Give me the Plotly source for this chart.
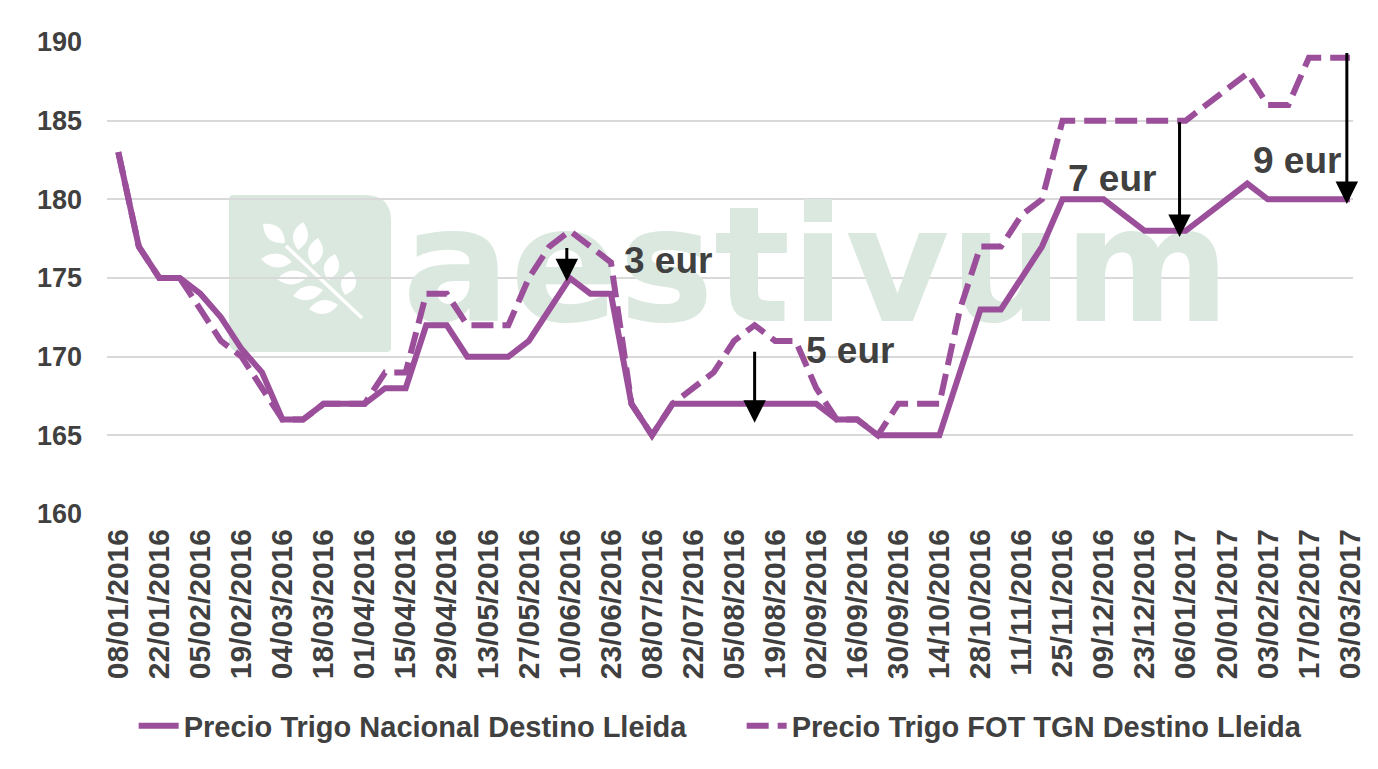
import plotly.graph_objects as go

# ---------------- data ----------------
dates = [
    "08/01/2016", "15/01/2016", "22/01/2016", "29/01/2016", "05/02/2016", "12/02/2016",
    "19/02/2016", "26/02/2016", "04/03/2016", "11/03/2016", "18/03/2016", "25/03/2016",
    "01/04/2016", "08/04/2016", "15/04/2016", "22/04/2016", "29/04/2016", "06/05/2016",
    "13/05/2016", "20/05/2016", "27/05/2016", "03/06/2016", "10/06/2016", "17/06/2016",
    "23/06/2016", "01/07/2016", "08/07/2016", "15/07/2016", "22/07/2016", "29/07/2016",
    "05/08/2016", "12/08/2016", "19/08/2016", "26/08/2016", "02/09/2016", "09/09/2016",
    "16/09/2016", "23/09/2016", "30/09/2016", "07/10/2016", "14/10/2016", "21/10/2016",
    "28/10/2016", "04/11/2016", "11/11/2016", "18/11/2016", "25/11/2016", "02/12/2016",
    "09/12/2016", "16/12/2016", "23/12/2016", "30/12/2016", "06/01/2017", "13/01/2017",
    "20/01/2017", "27/01/2017", "03/02/2017", "10/02/2017", "17/02/2017", "24/02/2017",
    "03/03/2017",
]

nacional = [
    183, 177, 175, 175, 174, 172.5, 170.5, 169, 166, 166, 167, 167,
    167, 168, 168, 172, 172, 170, 170, 170, 171, 173, 175, 174,
    174, 167, 165, 167, 167, 167, 167, 167, 167, 167, 167, 166,
    166, 165, 165, 165, 165, 169, 173, 173, 175, 177, 180, 180,
    180, 179, 178, 178, 178, 179, 180, 181, 180, 180, 180, 180,
    180,
]

fot_tgn = [
    183, 177, 175, 175, 173, 171, 170, 168, 166, 166, 167, 167,
    167, 169, 169, 174, 174, 172, 172, 172, 175, 177, 178, 177,
    176, 167, 165, 167, 168, 169, 171, 172, 171, 171, 168, 166,
    166, 165, 167, 167, 167, 173, 177, 177, 179, 180, 185, 185,
    185, 185, 185, 185, 185, 186, 187, 188, 186, 186, 189, 189,
    189,
]

tick_labels = dates[::2]

series_names = ["Precio Trigo Nacional Destino Lleida", "Precio Trigo FOT TGN Destino Lleida"]

# difference call-outs: (category index, from value, to value, label, label x, label y)
gaps = [
    (21.85, 177.0, 174.8, "3 eur", 26.8, 176.1),
    (31.0, 170.4, 165.8, "5 eur", 35.65, 170.4),
    (51.7, 185.0, 177.6, "7 eur", 48.4, 181.35),
    (59.85, 189.4, 179.7, "9 eur", 57.4, 182.5),
]

# ---------------- styling ----------------
PURPLE = "#9b4f9b"
GREY_TXT = "#404040"
WM = "rgb(218,232,223)"
FONT = "Liberation Sans, Arial, sans-serif"

W, H = 1378, 769
L, R, T, B = 107, 25, 42, 255
PW, PH = W - L - R, H - T - B


def px(x):
    return (x - L) / PW


def py(y):
    return (H - B - y) / PH


def path_from_px(points, close=True):
    s = ""
    for cmd, coords in points:
        s += cmd + " ".join(f"{px(a):.5f},{py(b):.5f}" for a, b in coords) + " "
    if close:
        s += "Z"
    return s


fig = go.Figure()

# watermark word (drawn beneath the lines)
fig.add_trace(go.Scatter(
    x=[dates[34]], y=[174.8], mode="text", text=["aestivum"],
    textposition="middle center",
    textfont=dict(family="DejaVu Sans, sans-serif", size=160, color=WM, weight="bold"),
    showlegend=False, hoverinfo="skip", cliponaxis=False,
))

fig.add_trace(go.Scatter(
    x=dates, y=nacional, mode="lines", name=series_names[0],
    line=dict(color=PURPLE, width=6),
))
fig.add_trace(go.Scatter(
    x=dates, y=fot_tgn, mode="lines", name=series_names[1],
    line=dict(color=PURPLE, width=6, dash="22px,9px"),
))

shapes = []
# logo rounded square
x0, x1, y0, y1 = 229, 391, 195, 352
rtr, rbl, rsm = 26, 12, 4
logo = [
    ("M", [(x0 + rsm, y0)]),
    ("L", [(x1 - rtr, y0)]),
    ("Q", [(x1, y0), (x1, y0 + rtr)]),
    ("L", [(x1, y1 - rsm)]),
    ("Q", [(x1, y1), (x1 - rsm, y1)]),
    ("L", [(x0 + rbl, y1)]),
    ("Q", [(x0, y1), (x0, y1 - rbl)]),
    ("L", [(x0, y0 + rsm)]),
    ("Q", [(x0, y0), (x0 + rsm, y0)]),
]
shapes.append(dict(type="path", xref="paper", yref="paper", path=path_from_px(logo),
                   fillcolor=WM, line=dict(width=0), layer="below"))

# wheat stem
shapes.append(dict(type="line", xref="paper", yref="paper",
                   x0=px(286), y0=py(246), x1=px(362), y1=py(318),
                   line=dict(color="white", width=3.5), layer="below"))

leaves = [
    ((285, 243), (263, 224), 15),
    ((292, 262), (261, 259), 14),
    ((308, 276), (277, 279), 14),
    ((323, 290), (293, 296), 14),
    ((338, 305), (309, 309), 14),
    ((298, 250), (303, 222), 15),
    ((313, 265), (318, 238), 15),
    ((328, 280), (335, 254), 15),
    ((345, 295), (352, 271), 15),
]
for (bx, by), (tx, ty), w in leaves:
    dx, dy = tx - bx, ty - by
    ln = (dx * dx + dy * dy) ** 0.5
    nx, ny = -dy / ln, dx / ln
    mx, my = bx + 0.5 * dx, by + 0.5 * dy
    c1 = (mx + nx * w, my + ny * w)
    c2 = (mx - nx * w, my - ny * w)
    leaf = [("M", [(bx, by)]), ("Q", [c1, (tx, ty)]), ("Q", [c2, (bx, by)])]
    shapes.append(dict(type="path", xref="paper", yref="paper", path=path_from_px(leaf),
                       fillcolor="white", line=dict(width=0), layer="below"))

annotations = []
for xi, y_from, y_to, label, lx, ly in gaps:
    annotations.append(dict(
        x=xi, y=y_to, ax=xi, ay=y_from, xref="x", yref="y", axref="x", ayref="y",
        showarrow=True, arrowhead=2, arrowsize=1.5, arrowwidth=3, arrowcolor="black",
        standoff=0, startstandoff=0, text="",
    ))
    annotations.append(dict(
        x=lx, y=ly, xref="x", yref="y", text=label, showarrow=False,
        font=dict(family=FONT, size=37, color=GREY_TXT, weight="bold"),
    ))

fig.update_layout(
    width=W, height=H,
    margin=dict(l=L, r=R, t=T, b=B, autoexpand=False),
    paper_bgcolor="white", plot_bgcolor="white",
    font=dict(family=FONT, color=GREY_TXT),
    shapes=shapes, annotations=annotations,
    showlegend=True,
    legend=dict(
        orientation="h", x=0.0214, xanchor="left", y=py(726), yanchor="middle",
        font=dict(family=FONT, size=29, color=GREY_TXT, weight="bold"),
        entrywidth=553, entrywidthmode="pixels", itemwidth=40,
        bgcolor="rgba(0,0,0,0)",
    ),
    xaxis=dict(
        type="category", categoryorder="array", categoryarray=dates,
        range=[-0.55, 60.15], showgrid=False, zeroline=False, showline=False,
        tickmode="array", tickvals=tick_labels, ticktext=tick_labels,
        tickangle=-90, ticks="", ticklabelstandoff=8,
        tickfont=dict(family=FONT, size=30, color=GREY_TXT, weight="bold"),
    ),
    yaxis=dict(
        range=[160, 190], dtick=5, tick0=160, showgrid=True, gridcolor="#d9d9d9",
        gridwidth=1.5, zeroline=False, showline=False, ticks="", ticklabelstandoff=24,
        tickfont=dict(family=FONT, size=27, color=GREY_TXT, weight="bold"),
    ),
)

fig.write_html("out.html", config={"displayModeBar": False},
               post_script="document.body.style.margin='0';")
